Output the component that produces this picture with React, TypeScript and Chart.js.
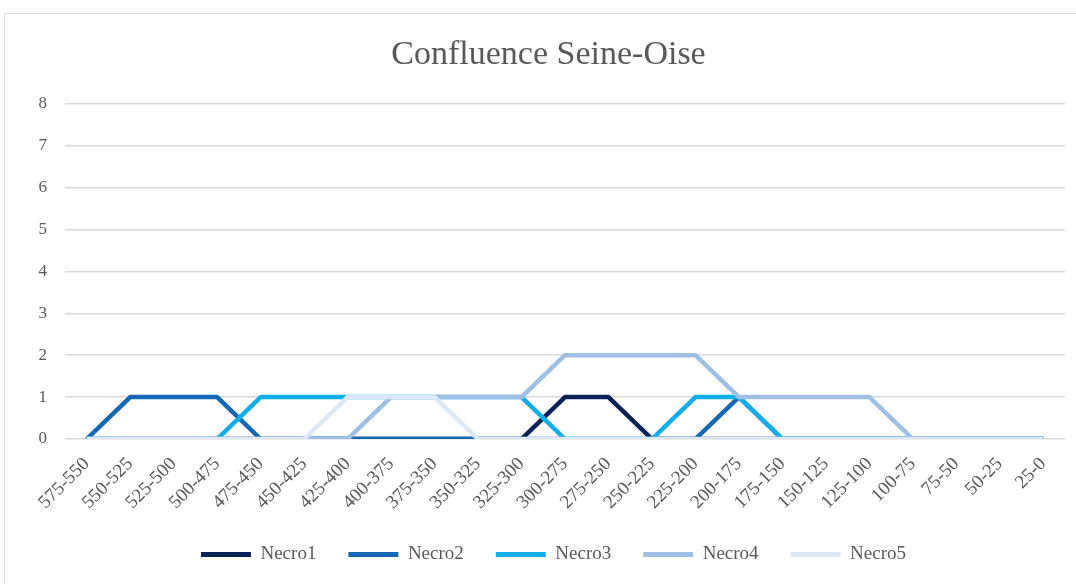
import React, { useEffect, useRef } from "react";
import { Chart, registerables } from "chart.js";

Chart.register(...registerables);

const categories = [
  "575-550", "550-525", "525-500", "500-475", "475-450", "450-425", "425-400",
  "400-375", "375-350", "350-325", "325-300", "300-275", "275-250", "250-225",
  "225-200", "200-175", "175-150", "150-125", "125-100", "100-75", "75-50",
  "50-25", "25-0",
];

const necro1 = [0, 0, 0, 0, 0, 0, 0, 0, 0, 0, 0, 1, 1, 0, 0, 0, 0, 0, 0, 0, 0, 0, 0];
const necro2 = [0, 1, 1, 1, 0, 0, 0, 0, 0, 0, 0, 0, 0, 0, 0, 1, 0, 0, 0, 0, 0, 0, 0];
const necro3 = [0, 0, 0, 0, 1, 1, 1, 1, 1, 1, 1, 0, 0, 0, 1, 1, 0, 0, 0, 0, 0, 0, 0];
const necro4 = [0, 0, 0, 0, 0, 0, 0, 1, 1, 1, 1, 2, 2, 2, 2, 1, 1, 1, 1, 0, 0, 0, 0];
const necro5 = [0, 0, 0, 0, 0, 0, 1, 1, 1, 0, 0, 0, 0, 0, 0, 0, 0, 0, 0, 0, 0, 0, 0];

const seriesNames = ["Necro1", "Necro2", "Necro3", "Necro4", "Necro5"];
const seriesColors = ["#0b2258", "#1569b4", "#12aeea", "#9fc0e3", "#dce8f5"];
const yTicks = [0, 1, 2, 3, 4, 5, 6, 7, 8];

const FONT = "'Liberation Serif', 'Times New Roman', serif";
const TEXT = "#595959";

const shiftPlugin = {
  id: "shiftBlocks",
  afterLayout(chart: any) {
    if (chart.legend) {
      chart.legend.left += 21;
      chart.legend.right += 21;
    }
    if (chart.titleBlock) {
      chart.titleBlock.left += 16;
      chart.titleBlock.right += 16;
    }
  },
};

export default function App() {
  const ref = useRef<HTMLCanvasElement | null>(null);

  useEffect(() => {
    document.body.style.margin = "0";
    const values = [necro1, necro2, necro3, necro4, necro5];
    const chart = new Chart(ref.current as HTMLCanvasElement, {
      type: "line",
      data: {
        labels: categories,
        datasets: seriesNames.map((name, i) => ({
          label: name,
          data: values[i],
          borderColor: seriesColors[i],
          backgroundColor: seriesColors[i],
          borderWidth: 4.5,
          pointRadius: 0,
          tension: 0,
          fill: false,
          order: seriesNames.length - i,
          borderCapStyle: "butt" as const,
          borderJoinStyle: "round" as const,
        })),
      },
      options: {
        animation: false,
        responsive: false,
        maintainAspectRatio: false,
        layout: { padding: { left: 0, right: 11, top: 0, bottom: 10 } },
        plugins: {
          title: {
            display: true,
            text: "Confluence Seine-Oise",
            color: TEXT,
            font: { family: FONT, size: 34, weight: "normal" },
            padding: { top: 35, bottom: 28 },
          },
          legend: {
            position: "bottom",
            labels: {
              color: TEXT,
              font: { family: FONT, size: 19 },
              boxWidth: 50,
              boxHeight: 5,
              padding: 32,
              sort: (a: any, b: any) => a.datasetIndex - b.datasetIndex,
              generateLabels: (c: any) =>
                Chart.defaults.plugins.legend.labels
                  .generateLabels(c)
                  .map((l: any) => ({ ...l, lineWidth: 0, fillStyle: seriesColors[l.datasetIndex] })),
            },
          },
          tooltip: { enabled: false },
        },
        scales: {
          x: {
            offset: true,
            grid: { display: false, drawTicks: false },
            border: { display: false },
            ticks: {
              color: TEXT,
              font: { family: FONT, size: 19 },
              maxRotation: 45,
              minRotation: 45,
              autoSkip: false,
              padding: 14,
            },
            afterFit: (s: any) => {
              s.height = 74;
            },
          },
          y: {
            min: 0,
            max: 8,
            grid: { color: "#d9d9d9", lineWidth: 1.5, drawTicks: false },
            border: { display: false },
            afterBuildTicks: (s: any) => {
              s.ticks = yTicks.map((v) => ({ value: v }));
            },
            ticks: {
              color: TEXT,
              font: { family: FONT, size: 17 },
              padding: 18,
            },
            afterFit: (s: any) => {
              s.width = 65;
            },
          },
        },
      },
      plugins: [shiftPlugin],
    });
    return () => chart.destroy();
  }, []);

  return (
    <div style={{ position: "relative", width: 1076, height: 584, overflow: "hidden", background: "#fff" }}>
      <div
        style={{
          position: "absolute",
          left: 4,
          top: 13,
          width: 1200,
          height: 700,
          border: "1.5px solid #d9d9d9",
        }}
      />
      <canvas ref={ref} width={1076} height={584} style={{ position: "absolute", left: 0, top: 0, display: "block" }} />
    </div>
  );
}
